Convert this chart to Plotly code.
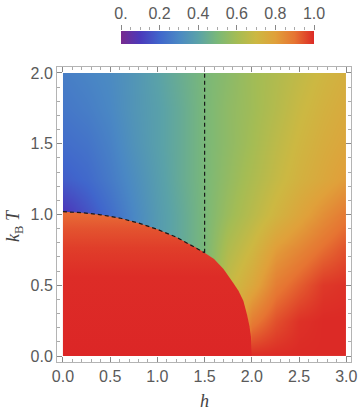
import plotly.graph_objects as go

# ---- data ----
h_grid = [0.0, 0.25, 0.5, 0.75, 1.0, 1.25, 1.5, 1.75, 2.0, 2.25, 2.5, 2.75, 3.0]
T_grid = [0.0, 0.25, 0.5, 0.75, 1.0, 1.25, 1.5, 1.75, 2.0]

# columns per h value (each list: values at T_grid)
col_values = [
    [0.06, 0.06, 0.06, 0.06, 0.08, 0.18, 0.22, 0.25, 0.27],  # h=0
    [0.13, 0.13, 0.13, 0.13, 0.15, 0.21, 0.24, 0.27, 0.29],  # h=0.25
    [0.20, 0.20, 0.20, 0.21, 0.22, 0.26, 0.28, 0.30, 0.31],  # h=0.5
    [0.28, 0.28, 0.28, 0.29, 0.30, 0.32, 0.34, 0.35, 0.35],  # h=0.75
    [0.36, 0.36, 0.36, 0.37, 0.37, 0.38, 0.39, 0.39, 0.40],  # h=1.0
    [0.43, 0.43, 0.43, 0.43, 0.43, 0.44, 0.44, 0.44, 0.45],  # h=1.25
    [0.50, 0.50, 0.50, 0.50, 0.50, 0.50, 0.50, 0.50, 0.50],  # h=1.5
    [0.70, 0.70, 0.68, 0.63, 0.58, 0.56, 0.55, 0.55, 0.54],  # h=1.75
    [1.00, 0.88, 0.77, 0.71, 0.65, 0.62, 0.60, 0.59, 0.59],  # h=2.0
    [1.00, 0.95, 0.88, 0.81, 0.72, 0.68, 0.66, 0.64, 0.63],  # h=2.25
    [1.00, 0.99, 0.93, 0.86, 0.78, 0.73, 0.71, 0.69, 0.67],  # h=2.5
    [1.00, 1.00, 0.98, 0.91, 0.84, 0.77, 0.75, 0.73, 0.71],  # h=2.75
    [1.00, 1.00, 0.99, 0.95, 0.89, 0.81, 0.78, 0.76, 0.74],  # h=3.0
]

boundary_h = [0.0, 0.2, 0.4, 0.6, 0.8, 1.0, 1.2, 1.4, 1.5, 1.6, 1.7, 1.8,
              1.86, 1.91, 1.95, 1.975, 1.99, 2.0]
boundary_T = [1.02, 1.013, 0.998, 0.975, 0.94, 0.895, 0.84, 0.77, 0.73, 0.685,
              0.615, 0.52, 0.46, 0.39, 0.29, 0.21, 0.14, 0.0]

ordered_h = boundary_h + [0.0]
ordered_T = boundary_T + [0.0]

dashed_h = boundary_h[:9]
dashed_T = boundary_T[:9]

vline_h = [1.5, 1.5]
vline_T = [0.73, 2.0]

cbar_vals = [0.0, 0.2, 0.4, 0.6, 0.8, 1.0]
cbar_text = ["0.", "0.2", "0.4", "0.6", "0.8", "1.0"]
axis_x_ticks = [0.0, 0.5, 1.0, 1.5, 2.0, 2.5, 3.0]
axis_y_ticks = [0.0, 0.5, 1.0, 1.5, 2.0]

# ---- styles / layout geometry (pixels, from top-left) ----
W, H = 360, 420
PL, PR, PT, PB = 57, 351, 67, 362          # plot frame
CB_X0, CB_X1, CB_Y0, CB_Y1 = 121, 314, 31, 44  # colour bar
LABEL_FONT = dict(family="Liberation Sans", size=16, color="#5a5a5a")
TITLE_FONT = dict(family="Liberation Serif", size=18, color="#444")

rainbow = [
    [0.0, "#782a8e"], [0.1, "#4b3abb"], [0.2, "#4066cc"], [0.3, "#4a88c4"],
    [0.4, "#5aa2a8"], [0.5, "#7ab878"], [0.6, "#a4bc54"], [0.7, "#ccb842"],
    [0.8, "#e0a03a"], [0.9, "#e67432"], [1.0, "#dc2a26"],
]
ordered_scale = [[0.0, "#dc2626"], [0.55, "#dd2c27"], [0.75, "#e03e2a"],
                 [0.88, "#e3532f"], [1.0, "#e86e37"]]


def fx(p):
    return p / W


def fy(p):
    return (H - p) / H


z = [[col_values[j][i] for j in range(len(h_grid))] for i in range(len(T_grid))]

fig = go.Figure()
fig.add_trace(go.Contour(
    x=h_grid, y=T_grid, z=z, colorscale=rainbow, zmin=0, zmax=1,
    contours=dict(coloring="heatmap", showlines=False, start=0, end=1, size=0.05),
    line=dict(width=0),
    colorbar=dict(
        orientation="h", xref="container", yref="container",
        x=fx(CB_X0), xanchor="left", y=fy(CB_Y1), yanchor="bottom",
        lenmode="pixels", len=CB_X1 - CB_X0, thickness=CB_Y1 - CB_Y0,
        xpad=0, ypad=0, outlinewidth=0, ticks="", showticklabels=False,
    ),
    hoverinfo="skip",
))
fig.add_trace(go.Scatter(
    x=ordered_h, y=ordered_T, mode="none", fill="toself",
    fillgradient=dict(type="vertical", colorscale=ordered_scale),
    hoverinfo="skip", showlegend=False,
))
fig.add_trace(go.Scatter(
    x=dashed_h, y=dashed_T, mode="lines",
    line=dict(color="#1a1a1a", width=1.2, dash="4px,3px"), showlegend=False,
))
fig.add_trace(go.Scatter(
    x=vline_h, y=vline_T, mode="lines",
    line=dict(color="#1a1a1a", width=1.2, dash="4px,3px"), showlegend=False,
))
# empty trace that only makes the colour-bar tick axis (x2/y2) exist
fig.add_trace(go.Scatter(
    x=cbar_vals, y=[None] * len(cbar_vals), xaxis="x2", yaxis="y2",
    mode="lines", hoverinfo="skip", showlegend=False,
))

axis_common = dict(
    showgrid=False, zeroline=False, showline=True, linecolor="#b4b4b4",
    linewidth=1, mirror="ticks", ticks="inside", ticklen=5, tickcolor="#888",
    tickformat=".1f", tickfont=LABEL_FONT,
    minor=dict(ticks="inside", ticklen=3, dtick=0.1, tickcolor="#aaa"),
)
fig.update_layout(
    xaxis=dict(range=[-0.063, 3.05], tickvals=axis_x_ticks,
               domain=[fx(PL), fx(PR)], anchor="y", **axis_common),
    yaxis=dict(range=[-0.042, 2.042], tickvals=axis_y_ticks,
               domain=[fy(PB), fy(PT)], anchor="x", **axis_common),
    # tick axis for the colour bar (labels above the bar)
    xaxis2=dict(range=[0, 1], domain=[fx(CB_X0), fx(CB_X1)],
                anchor="y2", side="top",
                showgrid=False, zeroline=False, showline=False,
                ticks="outside", ticklen=5, tickcolor="#888",
                tickvals=cbar_vals, ticktext=cbar_text, tickfont=LABEL_FONT,
                minor=dict(ticks="outside", ticklen=3, dtick=0.05,
                           tickcolor="#aaa"),
                fixedrange=True),
    yaxis2=dict(range=[0, 1], domain=[fy(CB_Y1), fy(CB_Y0)], anchor="x2",
                visible=False, fixedrange=True),
)

annotations = [
    dict(text="<i>h</i>", xref="paper", yref="paper",
         x=fx(204.5), y=fy(401), xanchor="center", yanchor="middle",
         showarrow=False, font=TITLE_FONT),
    dict(text="<i>k</i><sub>B</sub> <i>T</i>", xref="paper", yref="paper",
         x=fx(14), y=fy(226), xanchor="center", yanchor="middle",
         showarrow=False, textangle=-90, font=TITLE_FONT),
]

fig.update_layout(
    width=W, height=H,
    margin=dict(l=0, r=0, t=0, b=0, pad=0, autoexpand=False),
    plot_bgcolor="rgba(0,0,0,0)", paper_bgcolor="white", showlegend=False,
    annotations=annotations,
)

fig.write_html("out.html")
